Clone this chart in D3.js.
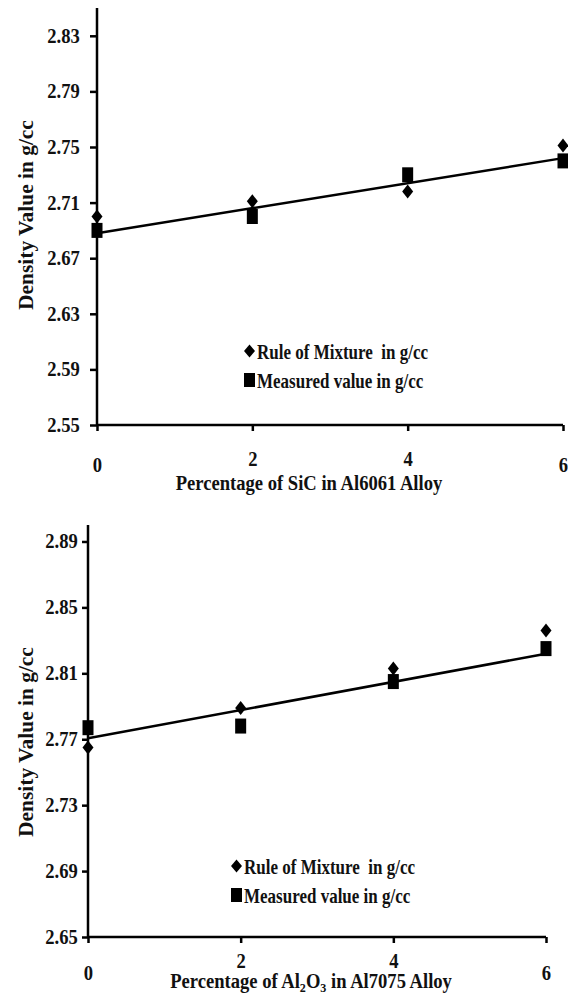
<!DOCTYPE html>
<html>
<head>
<meta charset="utf-8">
<script src="https://cdn.jsdelivr.net/npm/d3@7"></script>
<style>
  body { margin: 0; background: #fff; }
  text { font-family: "Liberation Serif", "Times New Roman", serif; font-weight: bold; fill: #111; }
  .sq { transform-box: fill-box; transform-origin: center; transform: scaleX(0.93); }
  .lg { transform-box: fill-box; transform-origin: left center; transform: scaleX(0.81); white-space: pre; }
</style>
</head>
<body>
<svg id="chart" width="568" height="1007"></svg>
<script>
// Data
const percent = [0, 2, 4, 6];
const sicRule = [2.700, 2.711, 2.718, 2.751];
const sicMeasured = [2.690, 2.700, 2.730, 2.740];
const aloRule = [2.765, 2.789, 2.813, 2.836];
const aloMeasured = [2.777, 2.778, 2.805, 2.825];
const sicTicks = [2.55, 2.59, 2.63, 2.67, 2.71, 2.75, 2.79, 2.83];
const aloTicks = [2.65, 2.69, 2.73, 2.77, 2.81, 2.85, 2.89];
const xTicks = [0, 2, 4, 6];
const legendLabels = ["Rule of Mixture  in g/cc", "Measured value in g/cc"];
const yTitle = "Density Value in g/cc";

const svg = d3.select("#chart");

// least squares fit for the trend line
function fit(xs, ys) {
  const mx = d3.mean(xs), my = d3.mean(ys);
  const slope = d3.sum(xs, (x, i) => (x - mx) * (ys[i] - my)) / d3.sum(xs, (x) => (x - mx) ** 2);
  return (x) => my + slope * (x - mx);
}

// diamond a bit wider than d3's default one
function diamondAt(sel, cx, cy, w, h) {
  sel.attr("d", `M${cx},${cy - h / 2}L${cx + w / 2},${cy}L${cx},${cy + h / 2}L${cx - w / 2},${cy}Z`);
}

function drawChart(opts) {
  const { rule, measured, yDomain, yTicks, left, right, top, bottom, yPad, yTick,
    xLabelOuter, xLabelInner, legendX, legendY, titleX, titleY, titleParts, yTitleY } = opts;
  const g = svg.append("g");
  const x = d3.scaleLinear().domain([0, 6]).range([left, right]);
  const y = d3.scaleLinear().domain(yDomain).range([bottom, top]);

  // y axis
  const yAxis = g.append("g")
    .attr("transform", `translate(${left},0)`)
    .call(d3.axisLeft(y).tickValues(yTicks).tickFormat(d3.format(".2f")).tickSize(yTick).tickPadding(yPad));
  yAxis.select(".domain").attr("d", `M0,${top}V${bottom}`);
  // x axis
  const xAxis = g.append("g")
    .attr("transform", `translate(0,${bottom})`)
    .call(d3.axisBottom(x).tickValues(xTicks).tickFormat(d3.format("d")).tickSize(6));
  xAxis.select(".domain").attr("d", `M${left},0H${right}`);
  xAxis.selectAll(".tick text")
    .attr("dy", 0)
    .attr("y", (d, i) => (i === 0 || i === xTicks.length - 1 ? xLabelOuter : xLabelInner));

  [yAxis, xAxis].forEach((a) => {
    a.selectAll("path, line").attr("stroke", "#000").attr("stroke-width", 2.5);
    a.selectAll("text").attr("class", "sq").style("font-size", "20px").attr("font-family", null).attr("font-size", null).attr("fill", "#111");
  });

  // trend line
  const f = fit(percent, measured);
  g.append("line")
    .attr("x1", x(0)).attr("y1", y(f(0)))
    .attr("x2", x(6)).attr("y2", y(f(6)))
    .attr("stroke", "#000").attr("stroke-width", 2.5);

  // diamonds
  g.selectAll(".rule").data(rule).enter().append("path")
    .attr("class", "rule")
    .each(function (d, i) { diamondAt(d3.select(this), x(percent[i]), y(d), 11, 14); })
    .attr("fill", "#000");

  // squares
  g.selectAll(".meas").data(measured).enter().append("rect")
    .attr("class", "meas")
    .attr("x", (d, i) => x(percent[i]) - 5.5)
    .attr("y", (d) => y(d) - 7.5)
    .attr("width", 11).attr("height", 15)
    .attr("fill", "#000");

  // legend
  const lg = g.append("g").attr("transform", `translate(${legendX},${legendY})`);
  diamondAt(lg.append("path"), 5.5, 0, 11, 13);
  lg.select("path").attr("fill", "#000");
  lg.append("rect").attr("x", 0).attr("y", 22).attr("width", 11).attr("height", 14).attr("fill", "#000");
  lg.selectAll(".lt").data(legendLabels).enter().append("text")
    .attr("x", 13).attr("y", (d, i) => i * 29 + 8)
    .attr("class", "lg")
    .style("font-size", "21px")
    .text((d) => d);

  // x axis title
  const t = g.append("text")
    .attr("x", titleX).attr("y", titleY)
    .attr("text-anchor", "middle")
    .attr("class", "sq")
    .style("font-size", "20px");
  titleParts.forEach((p) => {
    const s = t.append("tspan").text(p.t);
    if (p.sub) s.style("font-size", "13px").attr("dy", 4);
    if (p.after) s.attr("dy", -4);
  });

  // y axis title
  g.append("text")
    .attr("transform", `translate(33,${yTitleY}) rotate(-90) scale(1.02,1)`)
    .attr("text-anchor", "middle")
    .style("font-size", "21px")
    .text(yTitle);
}

drawChart({
  rule: sicRule, measured: sicMeasured,
  yDomain: [2.55, 2.85], yTicks: sicTicks,
  left: 97, right: 563, top: 8, bottom: 425, yTick: 7, yPad: 9,
  xLabelOuter: 47, xLabelInner: 41,
  legendX: 244, legendY: 351, titleX: 309, titleY: 490, yTitleY: 215,
  titleParts: [{ t: "Percentage of SiC in Al6061 Alloy" }]
});

drawChart({
  rule: aloRule, measured: aloMeasured,
  yDomain: [2.65, 2.90], yTicks: aloTicks,
  left: 88, right: 546, top: 525, bottom: 937, yTick: 6, yPad: 3,
  xLabelOuter: 43, xLabelInner: 31,
  legendX: 231, legendY: 866, titleX: 311, titleY: 988, yTitleY: 742,
  titleParts: [
    { t: "Percentage of Al" }, { t: "2", sub: true }, { t: "O", after: true },
    { t: "3", sub: true }, { t: " in Al7075 Alloy", after: true }
  ]
});
</script>
</body>
</html>
